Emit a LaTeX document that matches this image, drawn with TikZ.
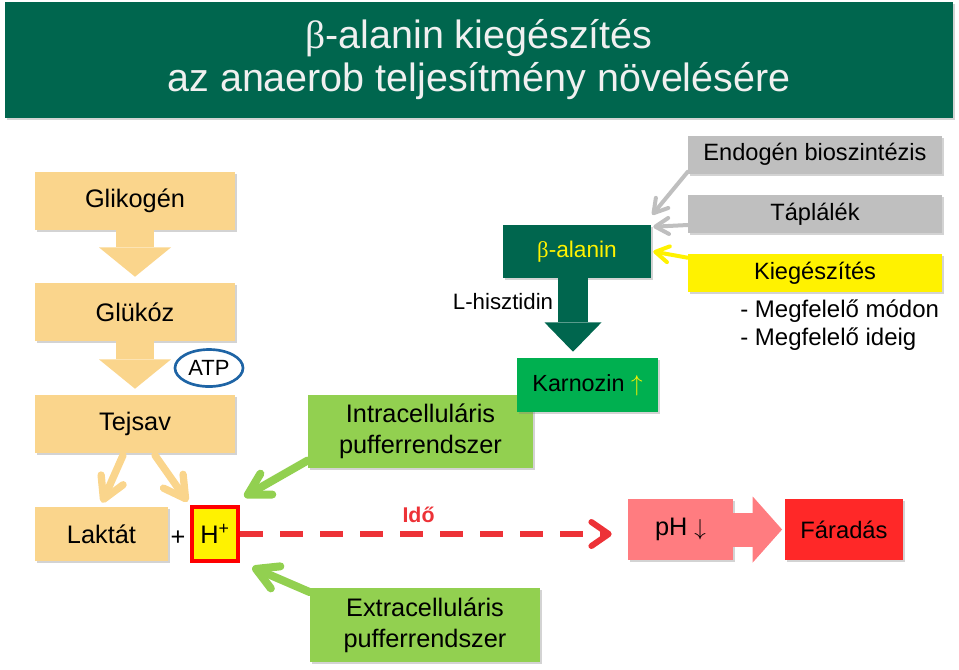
\documentclass[tikz,border=0pt]{standalone}
\usepackage{fontspec}
\setmainfont{Liberation Sans}
\newfontfamily\greekfont{Liberation Serif}
\usetikzlibrary{arrows.meta,shadows,shapes.geometric,calc}
\definecolor{darkgreen}{RGB}{0,102,78}
\definecolor{orangefill}{RGB}{250,213,140}
\definecolor{carngreen}{RGB}{0,176,80}
\definecolor{lightgreen}{RGB}{146,208,80}
\definecolor{greyfill}{RGB}{191,191,191}
\definecolor{phpink}{RGB}{255,124,128}
\definecolor{fatiguered}{RGB}{255,40,40}
\definecolor{dashred}{RGB}{237,50,55}
\definecolor{atpblue}{RGB}{30,100,165}
\begin{document}
\begin{tikzpicture}
[x=0.75pt,y=-0.75pt,
 box/.style={rectangle,inner sep=0pt,align=center,font=\fontsize{19}{23}\selectfont,
   drop shadow={shadow xshift=1.5pt,shadow yshift=-1.5pt,opacity=0.35}},
 orangebox/.style={box,fill=orangefill,minimum width=150pt,minimum height=43.5pt},
 greybox/.style={box,fill=greyfill,minimum width=190.5pt,minimum height=28.5pt,font=\fontsize{17.7}{21}\selectfont},
 greenbox/.style={box,fill=lightgreen,minimum height=55pt},
 thinarrow/.style={line width=5.5pt,line cap=round,-{Straight Barb[round,length=16pt,width=18pt]}},
 greyarrow/.style={greyfill,line width=3pt,line cap=round,-{Straight Barb[round,length=10pt,width=12pt]}}]
\useasboundingbox (0,0) rectangle (959,669);
\node[box,fill=darkgreen,minimum width=711pt,minimum height=87pt,text=white!94!black,
  font=\fontsize{29.6}{32.3}\selectfont] (title) at (479,60)
  {{\greekfont β}-alanin kiegészítés\\az anaerob teljesítmény növelésére};
\node[orangebox] (glikogen) at (135,201) {Glikogén};
\node[orangebox] (glukoz) at (135,312) {Glükóz};
\node[orangebox] (tejsav) at (135,424) {Tejsav};
\node[orangebox,minimum width=99.75pt,minimum height=40.5pt] (laktat) at (101.5,534) {Laktát};
\node[font=\fontsize{19}{23}\selectfont] (plus) at (178,538) {+};
\node[box,fill=yellow,draw=red,line width=3pt,minimum width=35pt,minimum height=41pt] (hplus) at (215,534) {H\textsuperscript{+}};
\node[ellipse,draw=atpblue,line width=2pt,fill=white,minimum width=51pt,minimum height=27.75pt,inner sep=0pt,
  font=\fontsize{16.5}{20}\selectfont] (atp) at (209,368) {ATP};
\draw[orangefill,line width=28.5pt,-{Triangle[width=54pt,length=22pt,line width=0pt]},shorten >=4.5pt] (glikogen) -- (glukoz);
\draw[orangefill,line width=28.5pt,-{Triangle[width=54pt,length=22pt,line width=0pt]},shorten >=4.5pt] (glukoz) -- (tejsav);
\node[greenbox,minimum width=168.75pt] (intra) at (420.5,431.5) {Intracelluláris\\pufferrendszer};
\node[greenbox,minimum width=172.5pt] (extra) at (425,625) {Extracelluláris\\pufferrendszer};
\node[box,fill=darkgreen,minimum width=111pt,minimum height=39.75pt,text=yellow,
  font=\fontsize{17}{20}\selectfont] (balanin) at (577,251.5) {{\greekfont β}-alanin};
\node[box,fill=carngreen,minimum width=105.75pt,minimum height=40.5pt,
  font=\fontsize{17.5}{20}\selectfont] (karnozin) at (587.5,385) {Karnozin {\color{yellow}$\uparrow$}};
\node[font=\fontsize{16.7}{20}\selectfont,inner sep=0pt] (lhisz) at (503,302) {L-hisztidin};
\node[greybox] (endogen) at (815,154.5) {Endogén bioszintézis};
\node[greybox] (taplalek) at (815,214) {Táplálék};
\node[greybox,fill=yellow] (kieg) at (815,273) {Kiegészítés};
\node[anchor=west,align=left,inner sep=0pt,font=\fontsize{18}{21}\selectfont] (megf) at (740,325)
  {- Megfelelő módon\\- Megfelelő ideig};
\node[box,fill=phpink,minimum width=78.75pt,minimum height=45.75pt] (ph) at (680.5,529.5) {pH $\downarrow$};
\node[box,fill=fatiguered,minimum width=88.5pt,minimum height=45.75pt,
  font=\fontsize{17.8}{21}\selectfont] (faradas) at (844,529.5) {Fáradás};
\coordinate (bstem) at ($(balanin.south)+(-4,0)$);
\draw[darkgreen,line width=22.5pt,-{Triangle[width=42.75pt,length=22pt,line width=0pt]},shorten >=4.5pt]
  (bstem) -- (bstem |- karnozin.north);
\draw[phpink,line width=25.5pt,-{Triangle[width=49.5pt,length=22pt,line width=0pt]},shorten >=2pt] (ph) -- (faradas);
\draw[thinarrow,orangefill] ($(tejsav.south)+(-12,2)$) -- ($(laktat.north)+(0.5,-4)$);
\draw[thinarrow,orangefill] ($(tejsav.south)+(20,2)$) -- ($(hplus.north west)+(-2,-3)$);
\draw[thinarrow,lightgreen,line width=6pt] ($(intra.south west)+(0,-8)$) -- ($(hplus.north east)+(4,-8)$);
\draw[thinarrow,lightgreen,line width=6pt] ($(extra.north west)+(0,4)$) -- ($(hplus.south east)+(12,4)$);
\draw[greyarrow] ($(endogen.south west)+(0,-2)$) -- ($(balanin.north east)+(1,-10)$);
\draw[greyarrow] ($(taplalek.west)+(0,11)$) -- ($(balanin.north east)+(2,2)$);
\draw[greyarrow,yellow] ($(kieg.north west)+(0,4)$) -- ($(balanin.east)+(2,0)$);
\draw[dashred,line width=4.5pt,dash pattern=on 17.25pt off 12.75pt,shorten >=12pt,
  -{Straight Barb[round,length=13pt,width=18pt]}] (hplus.east) -- (hplus.east -| ph.west)
  node[pos=0.46,above=3pt,text=dashred,font=\bfseries\fontsize{16}{19}\selectfont] (ido) {Idő};
\end{tikzpicture}
\end{document}
